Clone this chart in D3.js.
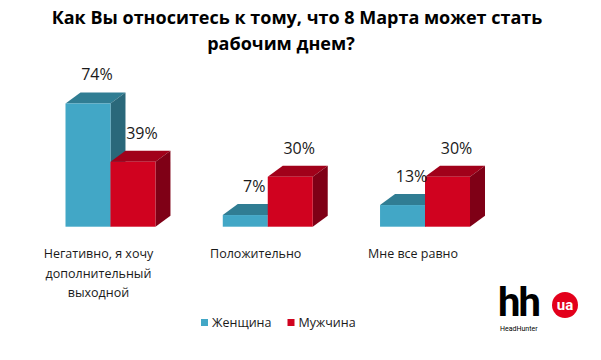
<!DOCTYPE html>
<html>
<head>
<meta charset="utf-8">
<script src="https://cdnjs.cloudflare.com/ajax/libs/d3/7.8.5/d3.min.js"></script>
<style>
  body { margin: 0; background: #fff; }
  text { font-family: "Open Sans", sans-serif; }
</style>
</head>
<body>
<div id="chart"></div>
<script>
// data
var categories = ["Негативно, я хочу дополнительный выходной", "Положительно", "Мне все равно"];
var categoryLines = [["Негативно, я хочу", "дополнительный", "выходной"], ["Положительно"], ["Мне все равно"]];
var seriesNames = ["Женщина", "Мужчина"];
var women = [74, 7, 13];
var men = [39, 30, 30];
var titleLines = ["Как Вы относитесь к тому, что 8 Марта может стать", "рабочим днем?"];

var width = 601, height = 360;
var depthX = 15, depthY = 11;

var colors = {
  "Женщина": { front: "#42A7C6", top: "#307D93", side: "#2A687A" },
  "Мужчина": { front: "#D0021F", top: "#A1011A", side: "#7F0016" }
};

var svg = d3.select("#chart").append("svg")
    .attr("width", width)
    .attr("height", height);

svg.append("rect").attr("width", width).attr("height", height).attr("fill", "#fff");

// title
svg.selectAll(".title")
    .data(titleLines)
    .enter().append("text")
    .attr("class", "title")
    .attr("x", function(d, i) { return i == 0 ? 297 : 281; })
    .attr("y", function(d, i) { return 24 + i * 26; })
    .attr("text-anchor", "middle")
    .style("font-size", "18px")
    .style("font-weight", "bold")
    .attr("fill", "#000")
    .text(function(d) { return d; });

// scales
var x0 = d3.scaleBand()
    .domain(categories)
    .range([65.5, 470])
    .paddingInner(0.428)
    .paddingOuter(0);

var x1 = d3.scaleBand()
    .domain(seriesNames)
    .range([0, x0.bandwidth()])
    .padding(0);

var y = d3.scaleLinear()
    .domain([0, 100])
    .range([226.7, 60.2]);

var rows = [];
categories.forEach(function(c, i) {
  rows.push({ cat: c, series: "Женщина", value: women[i] });
  rows.push({ cat: c, series: "Мужчина", value: men[i] });
});

var bars = svg.selectAll(".bar")
    .data(rows)
    .enter().append("g")
    .attr("class", "bar");

bars.each(function(d) {
  var g = d3.select(this);
  var xl = x0(d.cat) + x1(d.series);
  var xr = xl + x1.bandwidth();
  var yt = y(d.value), yb = y(0);
  var c = colors[d.series];
  // top face
  g.append("path")
    .attr("d", "M" + xl + "," + yt + "L" + (xl + depthX) + "," + (yt - depthY) +
               "L" + (xr + depthX) + "," + (yt - depthY) + "L" + xr + "," + yt + "Z")
    .attr("fill", c.top);
  // side face
  g.append("path")
    .attr("d", "M" + xr + "," + yt + "L" + (xr + depthX) + "," + (yt - depthY) +
               "L" + (xr + depthX) + "," + (yb - depthY) + "L" + xr + "," + yb + "Z")
    .attr("fill", c.side);
  // front face
  g.append("rect")
    .attr("x", xl)
    .attr("y", yt)
    .attr("width", x1.bandwidth())
    .attr("height", yb - yt)
    .attr("fill", c.front);
});

// value labels
svg.selectAll(".vlabel")
    .data(rows)
    .enter().append("text")
    .attr("class", "vlabel")
    .attr("x", function(d) { return x0(d.cat) + x1(d.series) + x1.bandwidth() / 2 + 9; })
    .attr("y", function(d) { return y(d.value) - depthY - 12; })
    .attr("text-anchor", "middle")
    .style("font-size", "16px")
    .attr("fill", "#1a1a1a")
    .text(function(d) { return d.value + "%"; });

// category labels
categories.forEach(function(c, i) {
  svg.append("g").selectAll("text")
    .data(categoryLines[i])
    .enter().append("text")
    .attr("x", x0(c) + x0.bandwidth() / 2 - 12)
    .attr("y", function(d, j) { return 258 + j * 19.5; })
    .attr("text-anchor", "middle")
    .style("font-size", "12.5px")
    .attr("fill", "#1a1a1a")
    .text(function(d) { return d; });
});

// legend
var legend = svg.selectAll(".legend")
    .data(seriesNames)
    .enter().append("g")
    .attr("class", "legend")
    .attr("transform", function(d, i) { return "translate(" + (201 + i * 86.5) + ",319)"; });
legend.append("rect")
    .attr("width", 7).attr("height", 7)
    .attr("fill", function(d) { return colors[d].front; });
legend.append("text")
    .attr("x", 11).attr("y", 8)
    .style("font-size", "12.5px")
    .attr("fill", "#1a1a1a")
    .text(function(d) { return d; });

// logo
var logo = svg.append("g").attr("transform", "translate(500,0)");
logo.append("text")
    .attr("x", -2).attr("y", 316)
    .style("font-family", "Roboto, sans-serif")
    .style("font-size", "40px")
    .style("font-weight", "bold")
    .style("letter-spacing", "-2px")
    .attr("fill", "#000")
    .text("hh");
logo.append("circle")
    .attr("cx", 65).attr("cy", 305).attr("r", 13)
    .attr("fill", "#E3001B");
logo.append("text")
    .attr("x", 65).attr("y", 310)
    .attr("text-anchor", "middle")
    .style("font-family", "Roboto, sans-serif")
    .style("font-size", "15px")
    .style("font-weight", "bold")
    .attr("fill", "#fff")
    .text("ua");
logo.append("text")
    .attr("x", 0).attr("y", 331)
    .style("font-family", "Roboto, sans-serif")
    .style("font-size", "7px")
    .attr("fill", "#000")
    .text("HeadHunter");
</script>
</body>
</html>
